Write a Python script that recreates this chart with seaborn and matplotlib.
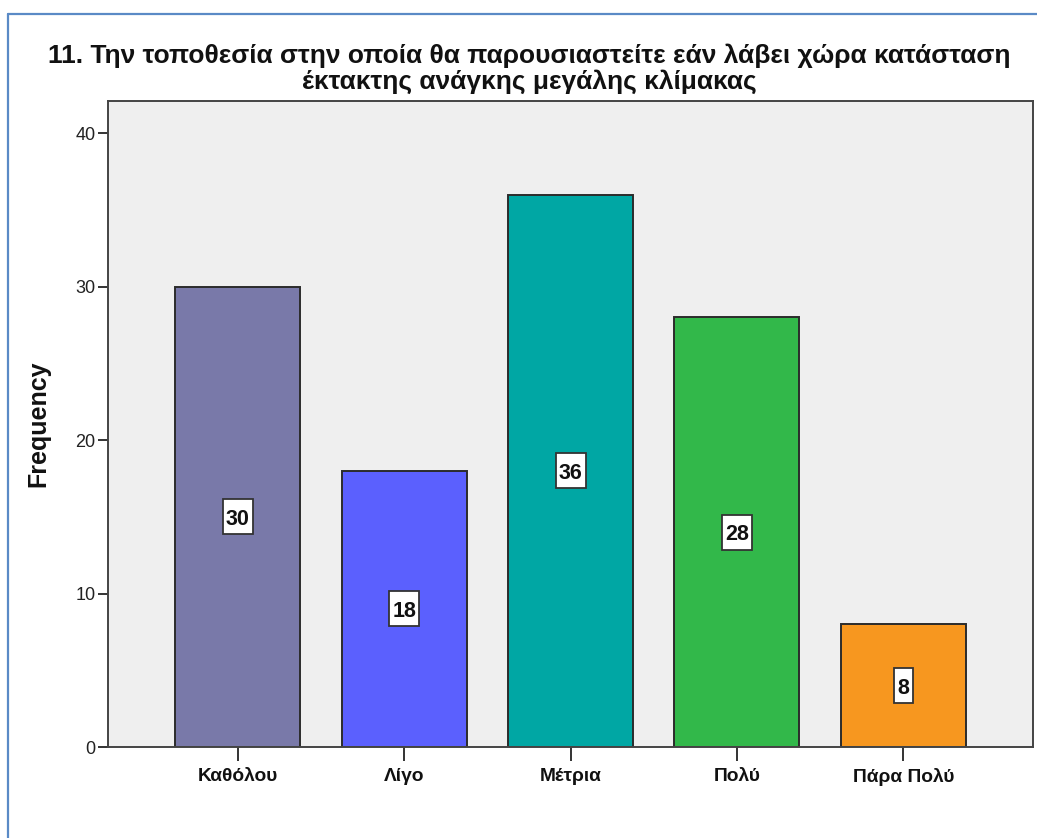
import matplotlib
matplotlib.use("Agg")
import matplotlib.pyplot as plt
from matplotlib.lines import Line2D
from matplotlib.patches import Rectangle
from matplotlib.transforms import ScaledTranslation
import seaborn as sns
import pandas as pd

# Response categories and their frequencies
categories = ["Καθόλου", "Λίγο", "Μέτρια", "Πολύ", "Πάρα Πολύ"]
frequencies = [30, 18, 36, 28, 8]
bar_colors = ["#7979a9", "#5b60fe", "#00a7a4", "#32b84a", "#f7971f"]
y_ticks = [0, 10, 20, 30, 40]

title_lines = ["11. Την τοποθεσία στην οποία θα παρουσιαστείτε εάν λάβει χώρα κατάσταση",
               "έκτακτης ανάγκης μεγάλης κλίμακας"]

sns.set_theme(style="white")
plt.rcParams["font.family"] = ["Liberation Sans", "DejaVu Sans"]

df = pd.DataFrame({"category": categories, "frequency": frequencies})

fig = plt.figure(figsize=(10.37, 8.38), dpi=100)
fig.patch.set_facecolor("white")
W, H = 1037, 838
ax = fig.add_axes([108 / W, 1 - 747 / H, (1033 - 108) / W, (747 - 101) / H])
ax.set_facecolor("#efefef")

sns.barplot(data=df, x="category", y="frequency", hue="category",
            palette=bar_colors, order=categories, hue_order=categories,
            legend=False, width=0.75, edgecolor="#2b2b2b", linewidth=1.4,
            saturation=1, ax=ax)

# Value labels: white box (sized to the digit count) centred at mid-height
for i, v in enumerate(frequencies):
    label = str(v)
    box_w = 0.08 + 0.11 * len(label)   # inches
    box_h = 0.35
    anchor = fig.dpi_scale_trans + ScaledTranslation(i, v / 2, ax.transData)
    ax.add_patch(Rectangle((-box_w / 2, -box_h / 2), box_w, box_h, transform=anchor,
                           fc="white", ec="#333333", lw=1.3, zorder=5))
    ax.text(i, v / 2, label, ha="center", va="center_baseline", fontsize=15.5,
            fontweight="bold", color="#111111", zorder=6)

ax.set_xlim(-0.78, 4.78)
ax.set_ylim(0, 42.1)
ax.set_yticks(y_ticks)
ax.set_yticklabels([str(t) for t in y_ticks], fontsize=13, color="#222222")
ax.set_xlabel("")
ax.set_ylabel("Frequency", fontsize=18, fontweight="bold", color="#111111")
ax.yaxis.set_label_coords(-0.062, 0.5)

for lbl in ax.get_xticklabels():
    lbl.set_fontweight("bold")
    lbl.set_fontsize(13.8)
    lbl.set_color("#111111")

ax.tick_params(axis="x", which="major", bottom=True, length=10, width=1.4,
               color="#333333", pad=5)
ax.tick_params(axis="y", which="major", left=True, length=7, width=1.4,
               color="#333333", pad=2)
for s in ax.spines.values():
    s.set_color("#444444")
    s.set_linewidth(1.4)

# Two-line title, each line placed on its own baseline
for line, base in zip(title_lines, [63, 89]):
    fig.text(529 / W, 1 - base / H, line, ha="center", va="baseline",
             fontsize=19, fontweight="bold", color="#111111")

# Blue frame along the top and left edges
fig.add_artist(Line2D([8 / W, 8 / W], [0, 1 - 14 / H], transform=fig.transFigure,
                      color="#5a8ac6", lw=1.6))
fig.add_artist(Line2D([8 / W, 1], [1 - 14 / H, 1 - 14 / H], transform=fig.transFigure,
                      color="#5a8ac6", lw=1.6))

fig.savefig("out.png", dpi=100)
